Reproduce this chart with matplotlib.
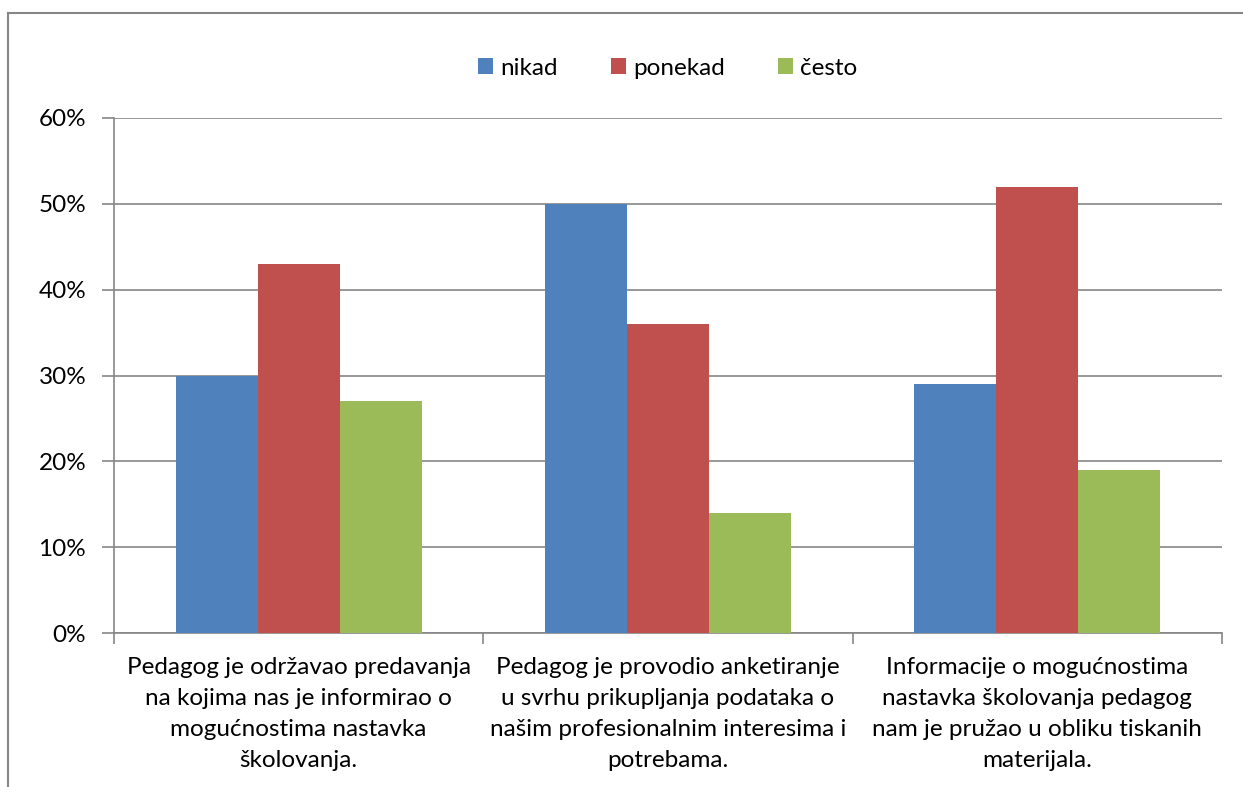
import numpy as np
import matplotlib.pyplot as plt
from matplotlib.lines import Line2D

plt.rcParams['font.family'] = ['Lato', 'DejaVu Sans']

# categories and series values (percent)
categories = [
    "Pedagog je održavao predavanja\nna kojima nas je informirao o\nmogućnostima nastavka\nškolovanja.",
    "Pedagog je provodio anketiranje\nu svrhu prikupljanja podataka o\nnašim profesionalnim interesima i\npotrebama.",
    "Informacije o mogućnostima\nnastavka školovanja pedagog\nnam je pružao u obliku tiskanih\nmaterijala.",
]
series_names = ["nikad", "ponekad", "često"]
nikad = [30, 50, 29]
ponekad = [43, 36, 52]
cesto = [27, 14, 19]
yticks = [0, 10, 20, 30, 40, 50, 60]

colors = ["#4F81BD", "#C0504D", "#9BBB59"]
grid_col = "#868686"
fs = 17.5

fig = plt.figure(figsize=(12.43, 7.87), dpi=100)
ax = fig.add_axes([114/1243, 1 - 633/787, (1222-114)/1243, (633-118)/787])

x = np.arange(len(categories))
w = 1 / 4.5  # excel gap width 150%
handles = []
for i, (vals, name) in enumerate(zip([nikad, ponekad, cesto], series_names)):
    b = ax.bar(x + (i - 1) * w, vals, width=w, color=colors[i], label=name, zorder=3)
    handles.append(b)

ax.set_xlim(-0.5, len(categories) - 0.5)
ax.set_ylim(0, 60)
ax.set_yticks(yticks)
ax.set_yticklabels([f"{t}%" for t in yticks])
ax.yaxis.grid(True, color=grid_col, linewidth=1.2, zorder=0)

# category boundary ticks
ax.set_xticks(np.arange(-0.5, len(categories)), minor=False)
ax.set_xticklabels([])
ax.set_xticks(x, minor=True)
ax.set_xticklabels(categories, minor=True, fontsize=fs, linespacing=1.6)
ax.tick_params(axis='x', which='minor', length=0, pad=17)
ax.tick_params(axis='x', which='major', length=8, color=grid_col, width=1.2)
ax.tick_params(axis='y', length=9, color=grid_col, width=1.2, labelsize=fs, pad=11)

for s in ['top', 'right']:
    ax.spines[s].set_visible(False)
for s in ['left', 'bottom']:
    ax.spines[s].set_color(grid_col)
    ax.spines[s].set_linewidth(1.2)

ax.legend(handles, series_names, loc='lower center', bbox_to_anchor=(0.5, 1.053),
          ncol=3, frameon=False, fontsize=fs, handlelength=0.6, handleheight=0.6,
          columnspacing=2.2, handletextpad=0.3, borderpad=0)

# outer chart border (left and top edges visible)
fig.add_artist(Line2D([8/1243, 8/1243], [0, 1 - 13/787], color=grid_col, linewidth=1.5))
fig.add_artist(Line2D([8/1243, 1], [1 - 13/787, 1 - 13/787], color=grid_col, linewidth=1.5))

fig.savefig("out.png", dpi=100)
